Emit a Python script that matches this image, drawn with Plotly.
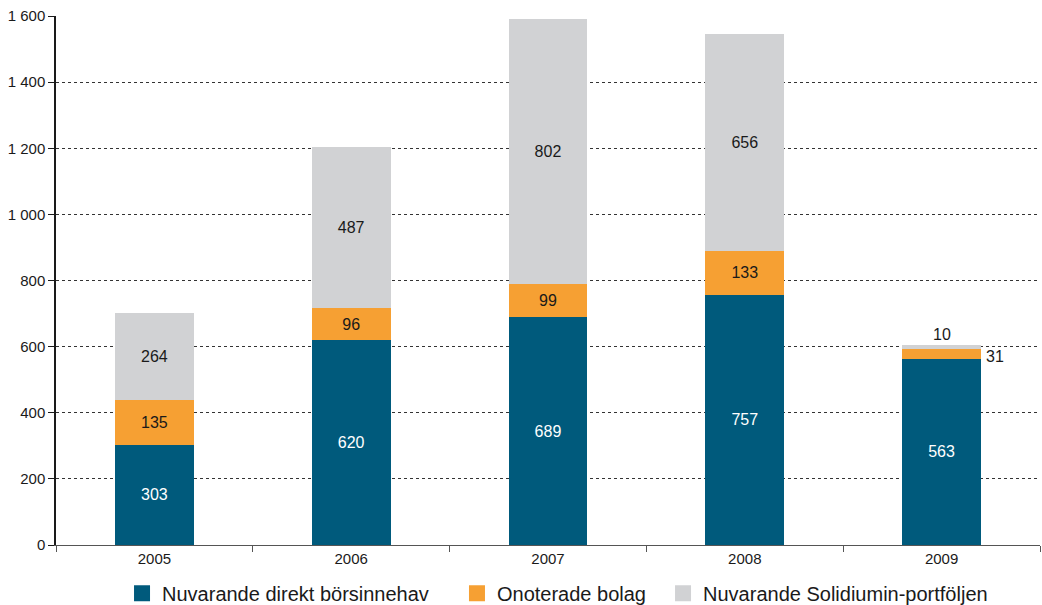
import plotly.graph_objects as go

years = ["2005", "2006", "2007", "2008", "2009"]
direkt = [303, 620, 689, 757, 563]
onoterade = [135, 96, 99, 133, 31]
solidium = [264, 487, 802, 656, 10]
names = ["Nuvarande direkt börsinnehav", "Onoterade bolag", "Nuvarande Solidiumin-portföljen"]
colors = ["#005a7c", "#f6a033", "#d1d2d4"]
ytick_vals = [0, 200, 400, 600, 800, 1000, 1200, 1400, 1600]

font_family = "Liberation Sans, Arial, sans-serif"

fig = go.Figure()
series = [direkt, onoterade, solidium]
text_colors = ["white", "#1a1a1a", "#1a1a1a"]
for i, (vals, name, col) in enumerate(zip(series, names, colors)):
    txt = [str(v) if not (y == "2009" and i > 0) else "" for y, v in zip(years, vals)]
    fig.add_trace(go.Bar(
        x=years, y=vals, name=name, marker=dict(color=col, line=dict(width=0)),
        text=txt, textposition="inside", insidetextanchor="middle",
        textfont=dict(color=text_colors[i], size=16, family=font_family),
        textangle=0, showlegend=False,
    ))
# legend entries (one legend per entry so each can be placed like the original)
legend_ids = ["legend", "legend2", "legend3"]
legend_x = [0.0671, 0.4075, 0.6169]
for name, col, lid in zip(names, colors, legend_ids):
    fig.add_trace(go.Scatter(x=[None], y=[None], mode="markers", name=name, legend=lid,
                             marker=dict(symbol="square", size=17, color=col)))

# small 2009 labels outside the bar
idx = years.index("2009")
fig.add_annotation(x=idx, y=direkt[idx] + onoterade[idx] + solidium[idx], text=str(solidium[idx]),
                   showarrow=False, yanchor="bottom", yshift=0,
                   font=dict(size=16, color="#1a1a1a", family=font_family))
fig.add_annotation(x=idx, y=direkt[idx] + onoterade[idx] / 2, text=str(onoterade[idx]),
                   showarrow=False, xanchor="left", xshift=42, yshift=-3,
                   font=dict(size=16, color="#1a1a1a", family=font_family))

legend_common = dict(orientation="h", xanchor="left", y=-0.091, yanchor="middle",
                     font=dict(size=20), itemwidth=30, bgcolor="rgba(0,0,0,0)")
fig.update_layout(
    barmode="stack", bargap=0.6,
    width=1042, height=605,
    margin=dict(l=56, r=2, t=16, b=60, autoexpand=False),
    paper_bgcolor="white", plot_bgcolor="white",
    separators=", ",
    font=dict(family=font_family, size=15, color="#1a1a1a"),
    showlegend=True,
    legend=dict(x=legend_x[0], **legend_common),
    legend2=dict(x=legend_x[1], **legend_common),
    legend3=dict(x=legend_x[2], **legend_common),
    xaxis=dict(type="category", showline=True, linecolor="#555555", linewidth=1,
               ticks="outside", tickson="boundaries", ticklen=6, tickcolor="#555555",
               showgrid=False, tickfont=dict(size=15), range=[-0.5, 4.5]),
    yaxis=dict(range=[0, 1600], tickvals=ytick_vals, tickformat=",d",
               showline=True, linecolor="#1a1a1a", linewidth=1.5,
               ticks="outside", ticklen=6, tickcolor="#1a1a1a",
               showgrid=True, gridcolor="#333333", griddash="dot", gridwidth=1,
               zeroline=False, tickfont=dict(size=15)),
)

fig.write_html("out.html")
